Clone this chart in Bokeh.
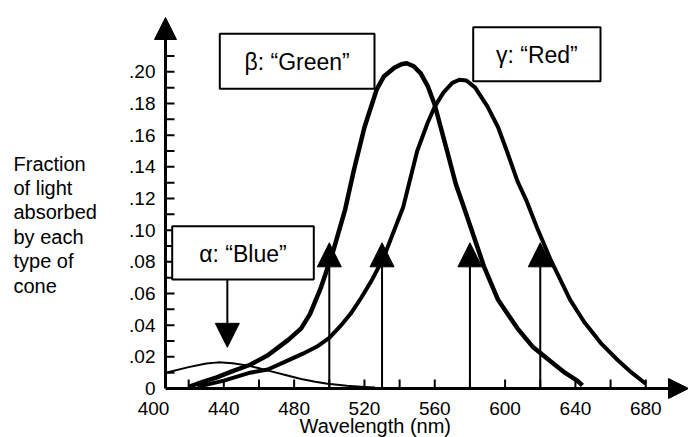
from bokeh.plotting import figure
from bokeh.models import Range1d, FixedTicker, Arrow, NormalHead, ColumnDataSource, Title
from bokeh.core.properties import value
from bokeh.embed import file_html
from bokeh.resources import INLINE

# ---------------- data ----------------
blue_nm = [407, 420, 430, 437, 445, 453, 460, 467, 475, 484, 492, 499, 510, 520, 526]
blue_val = [0.0100, 0.0135, 0.0158, 0.0165, 0.0160, 0.0146, 0.0128, 0.0108, 0.0085,
            0.0060, 0.0042, 0.0030, 0.0018, 0.0010, 0.0006]

green_nm = [420, 425, 436, 445, 455, 465, 471, 477, 484, 489, 495, 502, 509, 514, 520,
            527, 531, 537, 541, 544, 548, 552, 556, 560, 567, 572, 577, 588, 596, 607,
            616, 626, 634, 641, 644]
green_val = [0.001, 0.003, 0.007, 0.011, 0.015, 0.021, 0.026, 0.031, 0.038, 0.047,
             0.063, 0.086, 0.113, 0.138, 0.165, 0.189, 0.197, 0.2025, 0.2048, 0.2054,
             0.2035, 0.199, 0.191, 0.179, 0.150, 0.129, 0.113, 0.077, 0.056, 0.038,
             0.026, 0.017, 0.010, 0.005, 0.002]

red_nm = [425, 440, 455, 465, 475, 485, 493, 500, 506, 512, 518, 524, 531, 542, 550,
          556, 560, 565, 570, 574, 578, 583, 590, 596, 601, 607, 612, 618, 626, 637,
          645, 655, 664, 672, 680]
red_val = [0.001, 0.005, 0.010, 0.012, 0.017, 0.022, 0.0265, 0.032, 0.039, 0.047,
           0.057, 0.068, 0.083, 0.1145, 0.150, 0.168, 0.178, 0.187, 0.193, 0.195,
           0.1945, 0.190, 0.178, 0.165, 0.150, 0.131, 0.119, 0.102, 0.081, 0.056,
           0.042, 0.028, 0.018, 0.010, 0.003]

stimulus_nm = [500, 530, 580, 620]
stimulus_level = 0.092
blue_pointer_nm = 442
blue_pointer_tip = 0.026

cone_labels = ["α: “Blue”", "β: “Green”", "γ: “Red”"]

x_major_ticks = [400, 440, 480, 520, 560, 600, 640, 680]
x_minor_ticks = [420, 460, 500, 540, 580, 620, 660]
y_ticks = [0.0, 0.02, 0.04, 0.06, 0.08, 0.10, 0.12, 0.14, 0.16, 0.18, 0.20]
y_tick_labels = ["0", ".02", ".04", ".06", ".08", ".10", ".12", ".14", ".16", ".18", ".20"]
y_minor_ticks = [0.01, 0.03, 0.05, 0.07, 0.09, 0.11, 0.13, 0.15, 0.17, 0.19, 0.21]

y_title_lines = ["Fraction", "of light", "absorbed", "by each", "type of", "cone"]
x_title = "Wavelength (nm)"

# ---------------- layout (pixels) ----------------
W, H = 688, 437
FB = 399                 # frame bottom (frame spans the full width and top)
KX = 1.758               # px per nm
KY = 1583.5              # px per unit of fraction
X_REF_NM, X_REF_PX = 400, 153
ZERO_Y_PX = 388          # where the drawn x axis sits
AXIS_X_PX = 165          # where the drawn y axis sits
X_TITLE_LEFT_PX = 299
FONT = "Liberation Sans"


def dx(px):
    return X_REF_NM + (px - X_REF_PX) / KX


def dy(py):
    return (ZERO_Y_PX - py) / KY


X0, X1 = dx(0), dx(W)
Y0, Y1 = dy(FB), dy(0)
AX = dx(AXIS_X_PX)
TICK_LEN = 9

p = figure(width=W, height=H, output_backend="svg", toolbar_location=None,
           x_range=Range1d(X0, X1), y_range=Range1d(Y0, Y1),
           min_border_left=0, min_border_right=0,
           min_border_top=0, min_border_bottom=H - FB, title=None)
p.outline_line_color = None
p.xgrid.visible = False
p.ygrid.visible = False
p.yaxis.visible = False
p.background_fill_color = "white"
p.border_fill_color = "white"

xa = p.xaxis[0]
xa.axis_line_color = None
xa.major_tick_line_color = None
xa.minor_tick_line_color = None
xa.major_tick_in = 0
xa.major_tick_out = 0
xa.minor_tick_in = 0
xa.minor_tick_out = 0
xa.major_label_text_font = FONT
xa.major_label_text_font_size = "19px"
xa.major_label_text_color = "black"
xa.ticker = FixedTicker(ticks=x_major_ticks, minor_ticks=x_minor_ticks)
xa.major_label_standoff = 2

p.add_layout(Title(text=x_title, align="left", offset=X_TITLE_LEFT_PX, standoff=-10,
                   text_font=FONT, text_font_size="20px", text_font_style="normal",
                   text_color="black"), "below")

# y tick labels (the y axis is drawn inside the frame)
p.text(x=[dx(AXIS_X_PX - 10)] * len(y_ticks), y=y_ticks, text=y_tick_labels,
       text_align="right", text_baseline="middle", text_font=value(FONT),
       text_font_size="19px", text_color="black")

# y title block
p.text(x=[dx(13)] * len(y_title_lines), y=[dy(163 + 24.4 * i) for i in range(len(y_title_lines))],
       text=y_title_lines, text_align="left", text_baseline="middle", text_font=value(FONT),
       text_font_size="20px", text_color="black")

# drawn tick marks on the visible axes
xt = [t for t in x_major_ticks + x_minor_ticks if t > AX]
p.segment(x0=xt, y0=[0] * len(xt), x1=xt, y1=[TICK_LEN / KY] * len(xt),
          line_color="black", line_width=2)
yt = [t for t in y_ticks + y_minor_ticks if t > 0]
p.segment(x0=[AX] * len(yt), y0=yt, x1=[AX + TICK_LEN / KX] * len(yt), y1=yt,
          line_color="black", line_width=2)

# curves
p.line(blue_nm, blue_val, line_color="black", line_width=2, line_join="round")
p.line(green_nm, green_val, line_color="black", line_width=4.5, line_join="round")
p.line(red_nm, red_val, line_color="black", line_width=4, line_join="round")

# stimulus arrows
for nm in stimulus_nm:
    p.add_layout(Arrow(end=NormalHead(size=24, fill_color="black", line_color="black", line_width=1),
                       x_start=nm, y_start=0, x_end=nm, y_end=stimulus_level,
                       line_color="black", line_width=2))

# label boxes (pixel geometry)
boxes = [(171.7, 225.7, 313.3, 279.0),   # alpha
         (219.3, 33.3, 374.0, 88.3),     # beta
         (472.7, 26.7, 600.0, 80.7)]     # gamma
bsrc = ColumnDataSource(dict(
    left=[dx(b[0]) for b in boxes], right=[dx(b[2]) for b in boxes],
    top=[dy(b[1]) for b in boxes], bottom=[dy(b[3]) for b in boxes],
    cx=[dx((b[0] + b[2]) / 2) for b in boxes], cy=[dy((b[1] + b[3]) / 2 + 1) for b in boxes],
    txt=cone_labels))
p.quad(left="left", right="right", top="top", bottom="bottom", source=bsrc,
       fill_color="white", line_color="black", line_width=2)
p.text(x="cx", y="cy", text="txt", source=bsrc, text_align="center", text_baseline="middle",
       text_font=value(FONT), text_font_size="23px", text_color="black")

# blue pointer arrow
p.add_layout(Arrow(end=NormalHead(size=24, fill_color="black", line_color="black", line_width=1),
                   x_start=blue_pointer_nm, y_start=dy(boxes[0][3]),
                   x_end=blue_pointer_nm, y_end=blue_pointer_tip,
                   line_color="black", line_width=2))

# axis arrows (these are the visible axis lines)
p.add_layout(Arrow(end=NormalHead(size=22, fill_color="black", line_color="black", line_width=1),
                   x_start=AX, y_start=0, x_end=AX, y_end=dy(17), line_color="black", line_width=3))
p.add_layout(Arrow(end=NormalHead(size=20, fill_color="black", line_color="black", line_width=1),
                   x_start=AX, y_start=0, x_end=X1, y_end=0, line_color="black", line_width=3))

open("out.html", "w").write(file_html(p, INLINE))
